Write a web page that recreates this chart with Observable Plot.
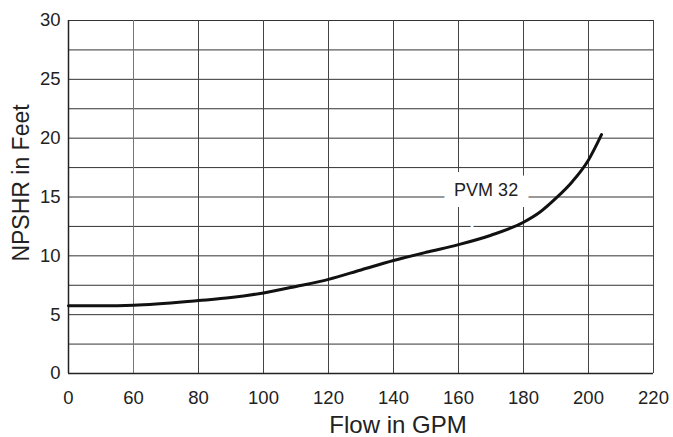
<!DOCTYPE html>
<html>
<head>
<meta charset="utf-8">
<script src="https://cdn.jsdelivr.net/npm/d3@7"></script>
<script src="https://cdn.jsdelivr.net/npm/@observablehq/plot@0.6"></script>
<style>
  html, body { margin: 0; padding: 0; background: #fff; }
  #chart svg { display: block; }
</style>
</head>
<body>
<div id="chart"></div>
<script>
// Curve data (Flow GPM, NPSHR ft)
const flow  = [0, 30, 60, 80, 90, 100, 110, 120, 130, 140, 150, 160, 170, 180, 185, 190, 195, 200, 204];
const npshr = [5.75, 5.75, 5.8, 6.2, 6.45, 6.85, 7.4, 8.0, 8.8, 9.6, 10.3, 10.95, 11.75, 12.85, 13.7, 14.9, 16.3, 18.15, 20.3];

const xTicks = [0, 60, 80, 100, 120, 140, 160, 180, 200, 220];
const yTicks = [0, 5, 10, 15, 20, 25, 30];
const yGrid  = [0, 2.5, 5, 7.5, 10, 12.5, 15, 17.5, 20, 22.5, 25, 27.5, 30];

const labels = [{x: 168.5, y: 15.55, text: "PVM 32"}];

// The axis is broken: 0–60 occupies the same width as one 20-GPM step.
const g = v => (v <= 60 ? v / 3 : v - 40);

const data = flow.map((f, i) => ({flow: f, npshr: npshr[i]}));

const W = 673, H = 437;
const mL = 68, mR = 20, mT = 20, mB = 64;
const font = "'Liberation Sans', Arial, Helvetica, sans-serif";

const chart = Plot.plot({
  width: W,
  height: H,
  marginLeft: mL,
  marginRight: mR,
  marginTop: mT,
  marginBottom: mB,
  style: {fontFamily: font, fontSize: "18.5px", color: "#222", background: "#fff"},
  x: {domain: [g(0), g(220)], label: null},
  y: {domain: [0, 30], label: null},
  marks: [
    Plot.ruleY(yGrid, {stroke: "#333", strokeWidth: 1}),
    Plot.ruleX(xTicks, {x: d => g(d), stroke: d => d === 60 ? "#777" : "#444", strokeWidth: 1}),
    Plot.ruleX([0], {x: d => g(d), stroke: "#222", strokeWidth: 1.5}),
    Plot.ruleY([0], {stroke: "#222", strokeWidth: 1.5}),
    Plot.text(labels, {x: d => g(d.x), y: "y", text: "text", fill: "white", stroke: "white", strokeWidth: 22, strokeLinejoin: "miter", fontSize: 18, fontFamily: font}),
    Plot.text(labels, {x: d => g(d.x), y: "y", text: "text", fill: "#222", fontSize: 18, fontFamily: font}),
    Plot.line(data, {x: d => g(d.flow), y: "npshr", stroke: "#111", strokeWidth: 3, curve: "monotone-x"}),
    Plot.axisX(xTicks.map(g), {tickSize: 0, tickPadding: 17, fontSize: 18.5, label: null, tickFormat: (v, i) => xTicks[i]}),
    Plot.axisY(yTicks, {tickSize: 0, tickPadding: 8, fontSize: 18.5, label: null}),
    Plot.text(["Flow in GPM"], {frameAnchor: "bottom", dx: 37, dy: 59, fontSize: 24, fontFamily: font, fill: "#222"}),
    Plot.text(["NPSHR in Feet"], {frameAnchor: "left", textAnchor: "middle", dx: -47, dy: -14, rotate: -90, fontSize: 23, fontFamily: font, fill: "#222"})
  ]
});

document.getElementById("chart").appendChild(chart);
</script>
</body>
</html>
